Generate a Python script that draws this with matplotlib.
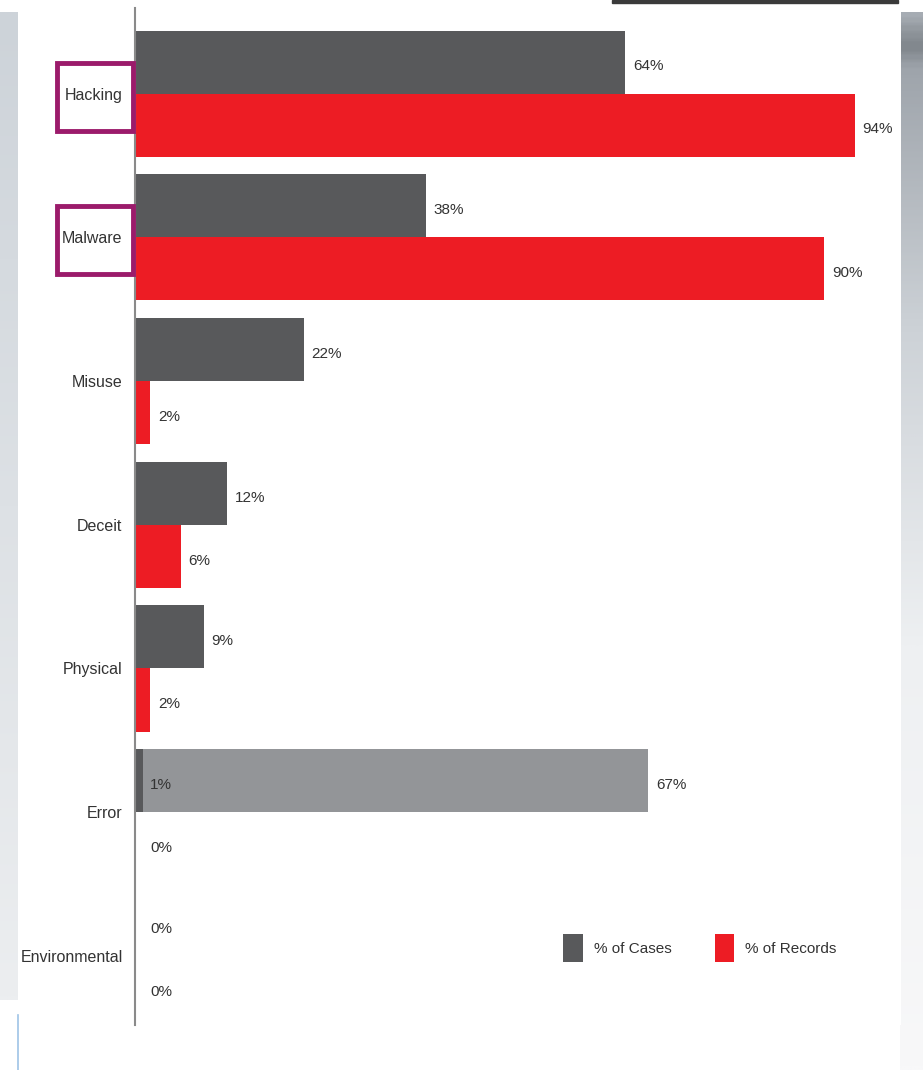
import numpy as np
import matplotlib
matplotlib.use("Agg")
import matplotlib.pyplot as plt
from matplotlib.patches import Rectangle
from matplotlib.colors import LinearSegmentedColormap

plt.rcParams['font.family'] = ['Liberation Sans', 'DejaVu Sans']

# Threat categories and shares (%)
categorias = ['Hacking', 'Malware', 'Misuse', 'Deceit', 'Physical', 'Error', 'Environmental']
casos = [64, 38, 22, 12, 9, 1, 0]
registros = [94, 90, 2, 6, 2, 0, 0]
vurgulu = ['Hacking', 'Malware']
# Error row carries an extra light bar
hata_ek = 67

koyu = '#58595b'
kirmizi = '#ed1c24'
acik = '#939598'
mor = '#9b1b6b'
yazi = '#333333'

fig = plt.figure(figsize=(9.23, 10.70), dpi=100)

# arka plan: kenarlardaki gri şeritler
bg = fig.add_axes([0, 0, 1, 1], zorder=-5)
bg.set_xlim(0, 923)
bg.set_ylim(1070, 0)
bg.axis('off')
t = np.linspace(0, 1, 400).reshape(-1, 1)
sol_cmap = LinearSegmentedColormap.from_list(
    'sol', [(0, '#cdd3d9'), (0.5, '#dde1e5'), (1, '#eceef0')])
bg.imshow(t, cmap=sol_cmap, extent=[0, 18, 1000, 12], aspect='auto')
sag_cmap = LinearSegmentedColormap.from_list(
    'sag', [(0, '#a6acb3'), (0.015, '#90969c'), (0.03, '#80868c'), (0.05, '#9ea4ab'),
            (0.3, '#cdd2d7'), (0.6, '#eef0f2'), (1, '#f8f8f9')])
bg.imshow(t, cmap=sag_cmap, extent=[900, 923, 1070, 12], aspect='auto')
bg.add_patch(Rectangle((612, 0), 286, 3, color='#3a3a3a'))
bg.plot([18, 18], [1015, 1070], color='#9ec3e6', lw=1.2)

px = 7.66          # pixels per percent
pitch = 143.7      # pixels per category
ax = fig.add_axes([135 / 923, (1070 - 1025) / 1070, 766 / 923, 1017 / 1070])
ax.set_xlim(0, 766 / px)
ax.set_ylim(6 + (1025 - 956) / pitch, -(93.5 - 8) / pitch)

y = np.arange(len(categorias))
h = 63 / pitch

ax.barh(y[5] - h / 2, hata_ek, height=h, color=acik, zorder=1)
ax.barh(y - h / 2, casos, height=h, color=koyu, label='% of Cases', zorder=2)
ax.barh(y + h / 2, registros, height=h, color=kirmizi, label='% of Records', zorder=2)

for i in range(len(categorias)):
    ax.text(max(casos[i], 1) + 1, y[i] - h / 2 + 0.03, f"{casos[i]}%", va='center', ha='left',
            fontsize=11, color=yazi, zorder=3)
    ax.text(max(registros[i], 1) + 1, y[i] + h / 2 + 0.03, f"{registros[i]}%", va='center', ha='left',
            fontsize=11, color=yazi, zorder=3)
ax.text(hata_ek + 1, y[5] - h / 2 + 0.03, f"{hata_ek}%", va='center', ha='left', fontsize=11, color=yazi)

ax.set_yticks(y)
ax.set_yticklabels(categorias, fontsize=11.5, color=yazi)
ax.tick_params(axis='y', length=0, pad=9)
ax.set_xticks([])
for s in ['top', 'right', 'bottom']:
    ax.spines[s].set_visible(False)
ax.spines['left'].set_color('#8a8a8a')
ax.spines['left'].set_linewidth(1.5)

# vurgulanan kategorilerin çerçeveleri
for ad in vurgulu:
    i = categorias.index(ad)
    ax.add_patch(Rectangle((-78 / px, i - 34 / pitch + 3 / pitch), 76 / px, 68 / pitch,
                           fill=False, edgecolor=mor, lw=3.5, clip_on=False, zorder=4))

ax.legend(loc='center', bbox_to_anchor=(700 / 923, 1 - 948 / 1070),
          bbox_transform=fig.transFigure, ncol=2, frameon=False, fontsize=11,
          handlelength=1.3, handleheight=2.5, handletextpad=0.7, columnspacing=2.8,
          labelcolor=yazi)

fig.savefig('out.png', dpi=100)
